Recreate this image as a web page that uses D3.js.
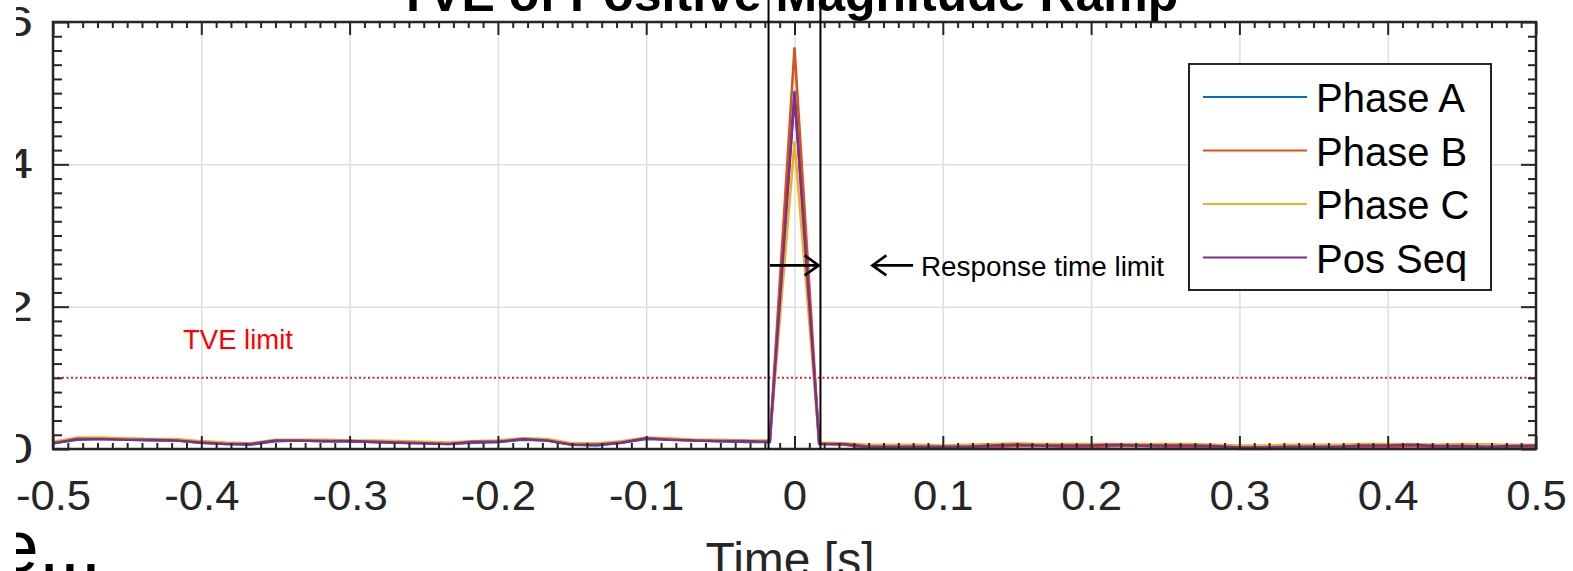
<!DOCTYPE html>
<html>
<head>
<meta charset="utf-8">
<script src="https://cdn.jsdelivr.net/npm/d3@7"></script>
<style>
  html, body { margin: 0; padding: 0; background: #fff; overflow: hidden; }
  svg { display: block; }
  text { font-family: "Liberation Sans", Arial, sans-serif; }
</style>
</head>
<body>
<svg id="chart"></svg>
<script>
// samples are reported at 60 frames per second, from -0.5 s to 0.5 s
const sampleRate = 60;
const times = d3.range(-30, 31).map(k => k / sampleRate);

const phaseA = [0.08, 0.13, 0.14, 0.13, 0.12, 0.12, 0.09, 0.07, 0.06, 0.11, 0.12, 0.11,
  0.11, 0.10, 0.09, 0.08, 0.07, 0.09, 0.10, 0.13, 0.12, 0.06, 0.05, 0.09,
  0.14, 0.13, 0.12, 0.11, 0.10, 0.10,
  5.02,
  0.08, 0.07, 0.04, 0.04, 0.03, 0.04, 0.04, 0.05, 0.06, 0.06, 0.05, 0.05,
  0.06, 0.06, 0.05, 0.05, 0.05, 0.03, 0.03, 0.03, 0.04, 0.04, 0.05, 0.05,
  0.06, 0.05, 0.06, 0.06, 0.05, 0.05];
const phaseB = [0.09, 0.15, 0.15, 0.14, 0.13, 0.12, 0.10, 0.08, 0.07, 0.12, 0.12, 0.12,
  0.11, 0.10, 0.10, 0.09, 0.08, 0.10, 0.11, 0.14, 0.13, 0.07, 0.06, 0.10,
  0.15, 0.14, 0.12, 0.12, 0.11, 0.11,
  5.63,
  0.07, 0.06, 0.01, 0.01, 0.01, 0.01, 0.01, 0.03, 0.04, 0.04, 0.03, 0.03,
  0.04, 0.04, 0.03, 0.03, 0.02, 0.00, 0.00, 0.01, 0.01, 0.01, 0.03, 0.03,
  0.04, 0.02, 0.02, 0.01, 0.02, 0.02];
const phaseC = [0.10, 0.16, 0.16, 0.15, 0.14, 0.14, 0.11, 0.09, 0.08, 0.13, 0.13, 0.13,
  0.12, 0.12, 0.11, 0.10, 0.09, 0.11, 0.12, 0.15, 0.14, 0.08, 0.08, 0.11,
  0.16, 0.15, 0.13, 0.13, 0.12, 0.12,
  4.31,
  0.09, 0.08, 0.06, 0.06, 0.06, 0.05, 0.06, 0.07, 0.08, 0.07, 0.07, 0.07,
  0.07, 0.07, 0.07, 0.07, 0.06, 0.05, 0.05, 0.06, 0.06, 0.06, 0.07, 0.07,
  0.07, 0.06, 0.07, 0.06, 0.06, 0.06];
const posSeq = [0.08, 0.14, 0.14, 0.13, 0.13, 0.12, 0.09, 0.07, 0.07, 0.12, 0.12, 0.11,
  0.11, 0.10, 0.09, 0.08, 0.07, 0.10, 0.10, 0.14, 0.12, 0.06, 0.06, 0.09,
  0.15, 0.13, 0.12, 0.11, 0.11, 0.10,
  4.97,
  0.07, 0.07, 0.03, 0.03, 0.03, 0.03, 0.03, 0.05, 0.06, 0.05, 0.05, 0.05,
  0.06, 0.05, 0.05, 0.05, 0.04, 0.02, 0.02, 0.03, 0.03, 0.03, 0.05, 0.05,
  0.06, 0.04, 0.04, 0.03, 0.04, 0.05];

const seriesNames = ['Phase A', 'Phase B', 'Phase C', 'Pos Seq'];
const seriesColors = ['#0072BD', '#D95319', '#EDB120', '#7E2F8E'];

const xTicks = [-0.5, -0.4, -0.3, -0.2, -0.1, 0, 0.1, 0.2, 0.3, 0.4, 0.5];
const xTickLabels = ['-0.5', '-0.4', '-0.3', '-0.2', '-0.1', '0', '0.1', '0.2', '0.3', '0.4', '0.5'];
const yTicks = [0, 2, 4, 6];
const yTickLabels = ['0', '2', '4', '6'];

const tveLimit = 1;
const responseWindow = [-0.0175, 0.0175];

const width = 1573;
const height = 571;
const plot = {left: 53, right: 1536, top: 22, bottom: 449};
const axisColor = '#262626';
// the source figure was stretched sideways and cropped on the left
const yLabelStretch = 1.3;
const cropLeft = 16;

const x = d3.scaleLinear().domain([-0.5, 0.5]).range([plot.left, plot.right]);
const y = d3.scaleLinear().domain([0, 6]).range([plot.bottom, plot.top]);

const xMinor = d3.range(-50, 51).map(k => k / 100).filter(v => Math.abs(v * 10 - Math.round(v * 10)) > 1e-6);
const yMinor = d3.range(0, 31).map(k => k / 5).filter(v => Math.abs(v / 2 - Math.round(v / 2)) > 1e-6);

const svg = d3.select('#chart')
  .attr('width', width)
  .attr('height', height);

svg.append('defs').append('clipPath')
  .attr('id', 'crop')
  .append('rect')
  .attr('x', cropLeft).attr('y', 0)
  .attr('width', width).attr('height', height);

// grid
svg.append('g')
  .attr('transform', `translate(0,${plot.bottom})`)
  .call(d3.axisBottom(x).tickValues(xTicks).tickSize(-(plot.bottom - plot.top)).tickFormat(''))
  .call(g => g.select('.domain').remove())
  .call(g => g.selectAll('line').attr('stroke', '#dedede').attr('stroke-width', 1.5));

svg.append('g')
  .attr('transform', `translate(${plot.left},0)`)
  .call(d3.axisLeft(y).tickValues(yTicks).tickSize(-(plot.right - plot.left)).tickFormat(''))
  .call(g => g.select('.domain').remove())
  .call(g => g.selectAll('line').attr('stroke', '#dedede').attr('stroke-width', 1.5));

// TVE limit
svg.append('line')
  .attr('x1', x(-0.5)).attr('x2', x(0.5))
  .attr('y1', y(tveLimit)).attr('y2', y(tveLimit))
  .attr('stroke', '#e3202a')
  .attr('stroke-width', 2)
  .attr('stroke-dasharray', '2,2.5');

// series
const line = d3.line()
  .x((d, i) => x(times[i]))
  .y(d => y(d));

[phaseA, phaseB, phaseC, posSeq].forEach((s, i) => {
  svg.append('path')
    .datum(s)
    .attr('fill', 'none')
    .attr('stroke', seriesColors[i])
    .attr('stroke-width', 2.6)
    .attr('stroke-linejoin', 'round')
    .attr('d', line);
});

// ticks on all four sides, pointing inward
function ticks(axis, transform, values, size) {
  svg.append('g')
    .attr('transform', transform)
    .call(axis.tickValues(values).tickSize(size).tickFormat(''))
    .call(g => g.select('.domain').remove())
    .call(g => g.selectAll('line').attr('stroke', axisColor).attr('stroke-width', 2));
}
ticks(d3.axisBottom(x), `translate(0,${plot.bottom})`, xMinor, -6);
ticks(d3.axisBottom(x), `translate(0,${plot.bottom})`, xTicks, -13);
ticks(d3.axisTop(x), `translate(0,${plot.top})`, xMinor, -6);
ticks(d3.axisTop(x), `translate(0,${plot.top})`, xTicks, -13);
ticks(d3.axisLeft(y), `translate(${plot.left},0)`, yMinor, -9);
ticks(d3.axisLeft(y), `translate(${plot.left},0)`, yTicks, -16);
ticks(d3.axisRight(y), `translate(${plot.right},0)`, yMinor, -8);
ticks(d3.axisRight(y), `translate(${plot.right},0)`, yTicks, -15);

svg.append('rect')
  .attr('x', plot.left).attr('y', plot.top)
  .attr('width', plot.right - plot.left).attr('height', plot.bottom - plot.top)
  .attr('fill', 'none')
  .attr('stroke', axisColor)
  .attr('stroke-width', 2.5);

// tick labels
svg.append('g')
  .attr('transform', `translate(0,${plot.bottom})`)
  .call(d3.axisBottom(x).tickValues(xTicks).tickSize(0).tickPadding(31).tickFormat((d, i) => xTickLabels[i]))
  .call(g => g.select('.domain').remove())
  .call(g => g.selectAll('text')
    .attr('fill', axisColor)
    .attr('font-size', 42)
    .attr('transform', 'scale(1.04,1)')
    .attr('font-family', '"Liberation Sans", Arial, sans-serif'));

svg.append('g')
  .attr('clip-path', 'url(#crop)')
  .append('g')
  .attr('transform', `translate(${plot.left},0)`)
  .call(d3.axisLeft(y).tickValues(yTicks).tickSize(0).tickPadding(20).tickFormat((d, i) => yTickLabels[i]))
  .call(g => g.select('.domain').remove())
  .call(g => g.selectAll('text')
    .attr('fill', axisColor)
    .attr('font-size', 42)
    .attr('x', -20 / yLabelStretch)
    .attr('transform', `scale(${yLabelStretch},1)`)
    .attr('font-family', '"Liberation Sans", Arial, sans-serif'));

// titles
svg.append('text')
  .attr('x', 788).attr('y', 11)
  .attr('text-anchor', 'middle')
  .attr('font-size', 50)
  .attr('font-weight', 'bold')
  .attr('fill', '#000')
  .text('TVE of Positive Magnitude Ramp');

svg.append('text')
  .attr('x', x(-0.003)).attr('y', 576)
  .attr('text-anchor', 'middle')
  .attr('font-size', 48)
  .attr('fill', axisColor)
  .text('Time [s]');

svg.append('g')
  .attr('clip-path', 'url(#crop)')
  .append('text')
  .attr('x', -3).attr('y', 572)
  .attr('font-size', 75)
  .attr('fill', '#000')
  .text('e...');

// response time window
responseWindow.forEach(t => {
  svg.append('line')
    .attr('x1', x(t)).attr('x2', x(t))
    .attr('y1', 0).attr('y2', plot.bottom)
    .attr('stroke', '#000')
    .attr('stroke-width', 2);
});

const arrowY = y(2.58);
function arrow(fromT, toT) {
  const x0 = x(fromT), x1 = x(toT);
  const dir = Math.sign(x1 - x0);
  svg.append('path')
    .attr('d', `M${x0},${arrowY}H${x1}M${x1 - dir * 14},${arrowY - 10}L${x1},${arrowY}L${x1 - dir * 14},${arrowY + 10}`)
    .attr('fill', 'none')
    .attr('stroke', '#000')
    .attr('stroke-width', 2.6);
}
arrow(responseWindow[0] + 0.001, responseWindow[1] - 0.0012);
arrow(0.08, 0.0525);

svg.append('text')
  .attr('x', 921).attr('y', 276)
  .attr('font-family', '"Open Sans", "Noto Sans", sans-serif')
  .attr('font-size', 27)
  .attr('textLength', 243)
  .attr('lengthAdjust', 'spacingAndGlyphs')
  .attr('fill', '#000')
  .text('Response time limit');

svg.append('text')
  .attr('x', 183).attr('y', 349)
  .attr('font-family', '"Open Sans", "Noto Sans", sans-serif')
  .attr('font-size', 27)
  .attr('textLength', 110)
  .attr('lengthAdjust', 'spacingAndGlyphs')
  .attr('fill', '#ff0000')
  .text('TVE limit');

// legend
const legend = svg.append('g');
legend.append('rect')
  .attr('x', 1189).attr('y', 64)
  .attr('width', 302).attr('height', 226)
  .attr('fill', '#fff')
  .attr('stroke', axisColor)
  .attr('stroke-width', 2);

seriesNames.forEach((name, i) => {
  const ly = 97 + i * 53.5;
  legend.append('line')
    .attr('x1', 1203).attr('x2', 1307)
    .attr('y1', ly).attr('y2', ly)
    .attr('stroke', seriesColors[i])
    .attr('stroke-width', 2);
  legend.append('text')
    .attr('x', 1316).attr('y', ly + 15)
    .attr('font-size', 40)
    .attr('fill', '#000')
    .text(name);
});
</script>
</body>
</html>
